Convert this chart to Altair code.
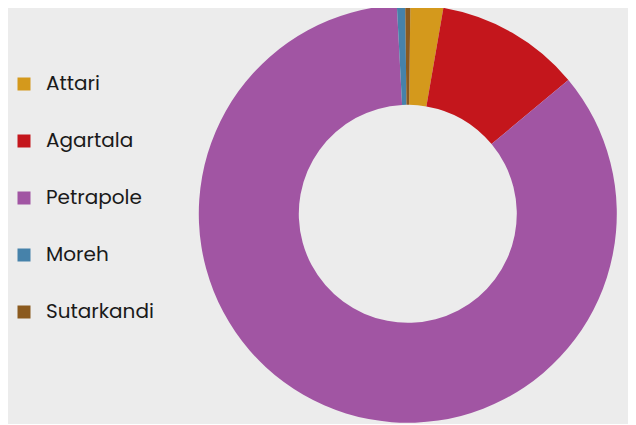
import math
import altair as alt
import pandas as pd

ports = ["Attari", "Agartala", "Petrapole", "Moreh", "Sutarkandi"]
shares = [2.53, 11.22, 85.22, 0.64, 0.39]
colors = ["#d4991c", "#c4161c", "#a155a3", "#4682aa", "#8b5a1e"]

df = pd.DataFrame({"port": ports, "share": shares, "idx": list(range(len(ports)))})

off = 0.7 * math.pi / 180

chart = (
    alt.Chart(df)
    .mark_arc(innerRadius=109, outerRadius=209)
    .encode(
        theta=alt.Theta("share:Q", stack=True,
                        scale=alt.Scale(range=[off, off + 2 * math.pi])),
        order=alt.Order("idx:Q"),
        color=alt.Color(
            "port:N",
            scale=alt.Scale(domain=ports, range=colors),
            legend=alt.Legend(
                title=None,
                orient="none",
                legendX=6,
                legendY=66,
                symbolType="square",
                symbolSize=169,
                symbolStrokeWidth=0,
                labelFont="Poppins, Open Sans",
                labelFontSize=20,
                labelColor="#1a1a1a",
                labelOffset=12,
                rowPadding=37,
            ),
        ),
        x=alt.value(399.8),
        y=alt.value(205.8),
    )
    .properties(
        width=620,
        height=416,
        padding=0,
        autosize=alt.AutoSizeParams(type="none"),
        background="#ececec",
    )
    .configure_view(stroke=None)
)

chart.save("out.html", embed_options={"renderer": "svg", "actions": False})
